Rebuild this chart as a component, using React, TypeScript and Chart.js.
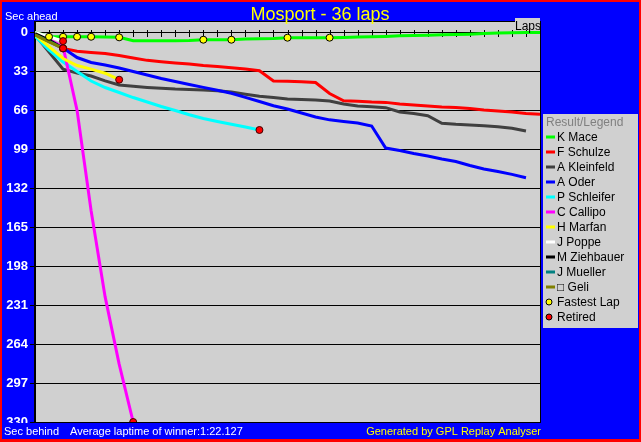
import React, { useEffect, useRef } from "react";
import { Chart, registerables } from "chart.js";

Chart.register(...registerables);

const TITLE = "Mosport - 36 laps";
const AVG_LAP_TEXT = "Average laptime of winner:1:22.127";
const CREDIT = "Generated by GPL Replay Analyser";
const AXIS_TOP_LABEL = "Sec ahead";
const AXIS_BOTTOM_LABEL = "Sec behind";
const X_LABEL = "Laps";
const LEGEND_TITLE = "Result/Legend";

const lapNumbers = [0, 1, 2, 3, 4, 5, 6, 7, 8, 9, 10, 11, 12, 13, 14, 15, 16, 17, 18, 19, 20, 21, 22, 23, 24, 25, 26, 27, 28, 29, 30, 31, 32, 33, 34, 35, 36];
const yTickValues = [0, 33, 66, 99, 132, 165, 198, 231, 264, 297, 330];

// seconds behind the winner's average pace, one value per lap (lap 0 first)
const maceGaps = [0, 3.6, 3.6, 3.6, 3.6, 3.8, 4.1, 7.0, 7.0, 7.0, 7.0, 6.8, 6.1, 6.1, 6.1, 5.6, 5.3, 5.1, 4.4, 4.4, 4.4, 4.4, 4.2, 3.8, 3.6, 3.3, 2.8, 2.6, 2.3, 2.0, 1.7, 1.4, 0.9, 0.5, 0.2, 0.1, 0];
const schulzeGaps = [1, 7, 13.5, 15.9, 16.9, 17.8, 19.5, 21.6, 23.6, 24.8, 25.8, 26.7, 28, 28.8, 29.8, 30.9, 32.4, 41.1, 41.4, 41.7, 42.4, 51.7, 57.8, 58.3, 58.9, 59.2, 60.6, 61.4, 62.3, 63.1, 63.6, 64.4, 65.7, 66.5, 67.4, 68.6, 69.3];
const kleinfeldGaps = [2, 16.5, 31, 34.3, 36.9, 41, 44.5, 45.6, 46.5, 47.2, 47.9, 48.3, 48.8, 49.4, 50.5, 52.3, 54, 55.1, 56.4, 56.8, 57.2, 58, 60.6, 62.3, 62.9, 63.7, 67.4, 68.6, 70.5, 76.9, 77.8, 78.4, 79, 79.8, 81.2, 83.5];
const oderGaps = [1, 6.5, 13.1, 21.2, 25.4, 27.5, 30.1, 33, 36, 39, 41.5, 44, 46.5, 49, 51.5, 55, 58.5, 62.1, 64.8, 68.2, 71.6, 74, 75.4, 76.7, 79.2, 97.9, 100, 102.5, 104.7, 107.2, 109.3, 112.7, 115.7, 117.8, 120.2, 123];
const schleiferGaps = [3, 14.8, 25, 33, 41.1, 46.6, 50.8, 55.1, 58.9, 62.7, 66.1, 69.7, 72.9, 75.4, 77.7, 80.1, 82.6];
const callipoGaps = [1, 6, 12, 66, 151, 224, 281, 330];
const marfanGaps = [2, 12, 22, 28, 31, 34.5, 40];
const poppeGaps = [0, 3.5, 7.3];
const ziehbauerGaps = [1, 6.5, 13.4];
const muellerGaps = [2, 7.5, 13.4];
const geliGaps = [2, 8, 13.4];

const driverNames = ["K Mace", "F Schulze", "A Kleinfeld", "A Oder", "P Schleifer", "C Callipo", "H Marfan", "J Poppe", "M Ziehbauer", "J Mueller", "\u25A1 Geli"];
const driverColors = ["#00ff00", "#ff0000", "#404040", "#0000ff", "#00ffff", "#ff00ff", "#ffff00", "#ffffff", "#000000", "#008080", "#808000"];
const driverGaps = [maceGaps, schulzeGaps, kleinfeldGaps, oderGaps, schleiferGaps, callipoGaps, marfanGaps, poppeGaps, ziehbauerGaps, muellerGaps, geliGaps];

const fastestLapLaps = [1, 2, 3, 4, 6, 12, 14, 18, 21];
const retiredDrivers = ["P Schleifer", "C Callipo", "H Marfan", "J Poppe", "M Ziehbauer", "J Mueller", "\u25A1 Geli"];

const FONT = "'Liberation Sans', Arial, Helvetica, sans-serif";
const PLOT_BG = "#d0d0d0";

const gplPlugin = {
  id: "gplFrame",
  beforeDraw(chart: any) {
    const { ctx, width, height, chartArea: a } = chart;
    ctx.save();
    ctx.fillStyle = "#ff0000";
    ctx.fillRect(0, 0, width, height);
    ctx.fillStyle = "#0000ff";
    ctx.fillRect(2, 2, width - 4, height - 5);
    ctx.fillStyle = PLOT_BG;
    ctx.fillRect(a.left, a.top, a.right - a.left, a.bottom - a.top);
    ctx.restore();
  },
  beforeDatasetsDraw(chart: any) {
    const { ctx } = chart;
    const xs = chart.scales.x;
    const ys = chart.scales.y;
    const y0 = Math.round(ys.getPixelForValue(0));
    ctx.save();
    ctx.strokeStyle = "#000";
    ctx.lineWidth = 1;
    ctx.beginPath();
    lapNumbers.forEach((lap) => {
      const x = Math.round(xs.getPixelForValue(lap)) + 0.5;
      ctx.moveTo(x, y0 - 3);
      ctx.lineTo(x, y0 + 4);
    });
    ctx.stroke();
    ctx.restore();
  },
  afterDraw(chart: any) {
    const { ctx, chartArea: a } = chart;
    ctx.save();
    // plot frame
    ctx.strokeStyle = "#000";
    ctx.lineWidth = 1;
    ctx.strokeRect(a.left - 0.5, a.top - 0.5, a.right - a.left + 1, a.bottom - a.top + 1);
    // status band at the bottom
    ctx.fillStyle = "#0000ff";
    ctx.fillRect(2, a.bottom + 1, a.right, 16);

    // title
    ctx.textBaseline = "alphabetic";
    ctx.textAlign = "center";
    ctx.fillStyle = "#ffff00";
    ctx.font = `18px ${FONT}`;
    ctx.fillText(TITLE, 320, 20);

    ctx.textAlign = "left";
    ctx.font = `11px ${FONT}`;
    ctx.fillStyle = "#ffffff";
    ctx.fillText(AXIS_TOP_LABEL, 5, 20);
    ctx.fillText(AXIS_BOTTOM_LABEL, 4, 435);
    ctx.fillText(AVG_LAP_TEXT, 70, 435);
    ctx.textAlign = "right";
    ctx.fillStyle = "#ffff00";
    ctx.fillText(CREDIT, a.right + 1, 435);

    // Laps label
    ctx.fillStyle = PLOT_BG;
    ctx.fillRect(a.right - 25, 18, 25, 12);
    ctx.fillStyle = "#000";
    ctx.textAlign = "left";
    ctx.font = `12px ${FONT}`;
    ctx.fillText(X_LABEL, a.right - 25, 30);

    // legend
    const lx = 543, ly = 114;
    ctx.fillStyle = PLOT_BG;
    ctx.fillRect(lx, ly, 95, 214);
    ctx.font = `12px ${FONT}`;
    ctx.textBaseline = "middle";
    ctx.fillStyle = "#808080";
    ctx.fillText(LEGEND_TITLE, 546, 123);
    const lineSets = chart.data.datasets.filter((d: any) => d.isDriver);
    lineSets.forEach((d: any, i: number) => {
      const cy = 137 + i * 15;
      ctx.strokeStyle = d.borderColor;
      ctx.lineWidth = 3;
      ctx.beginPath();
      ctx.moveTo(546, cy);
      ctx.lineTo(555, cy);
      ctx.stroke();
      ctx.fillStyle = "#000";
      ctx.fillText(d.label, 557, cy + 0.5);
    });
    const markerSets = chart.data.datasets.filter((d: any) => !d.isDriver);
    markerSets.forEach((d: any, j: number) => {
      const cy = 137 + (lineSets.length + j) * 15;
      ctx.beginPath();
      ctx.arc(549, cy, 3, 0, Math.PI * 2);
      ctx.fillStyle = d.pointBackgroundColor;
      ctx.fill();
      ctx.lineWidth = 1;
      ctx.strokeStyle = "#000";
      ctx.stroke();
      ctx.fillStyle = "#000";
      ctx.fillText(d.label, 557, cy + 0.5);
    });
    ctx.restore();
  },
};

export default function App() {
  const canvasRef = useRef<HTMLCanvasElement | null>(null);

  useEffect(() => {
    const canvas = canvasRef.current;
    if (!canvas) return;

    const driverSets = driverNames.map((name, i) => ({
      type: "line",
      label: name,
      isDriver: true,
      data: driverGaps[i].map((v, lap) => ({ x: lapNumbers[lap], y: v })),
      borderColor: driverColors[i],
      backgroundColor: driverColors[i],
      borderWidth: 3,
      pointRadius: 0,
      tension: 0,
      fill: false,
      order: -i,
    }));

    const fastestSet = {
      type: "line",
      label: "Fastest Lap",
      isDriver: false,
      showLine: false,
      data: fastestLapLaps.map((lap) => ({ x: lap, y: maceGaps[lap] })),
      pointStyle: "circle",
      pointRadius: 3.5,
      pointBackgroundColor: "#ffff00",
      pointBorderColor: "#000000",
      pointBorderWidth: 1,
      order: -100,
    };

    const retiredSet = {
      type: "line",
      label: "Retired",
      isDriver: false,
      showLine: false,
      data: retiredDrivers.map((name) => {
        const g = driverGaps[driverNames.indexOf(name)];
        return { x: lapNumbers[g.length - 1], y: g[g.length - 1] };
      }),
      pointStyle: "circle",
      pointRadius: 3.5,
      pointBackgroundColor: "#ff0000",
      pointBorderColor: "#400000",
      pointBorderWidth: 1,
      order: -101,
    };

    const chart = new Chart(canvas, {
      type: "line",
      data: { datasets: [...driverSets, fastestSet, retiredSet] as any },
      options: {
        responsive: false,
        animation: false,
        devicePixelRatio: 1,
        events: [],
        layout: { padding: { left: 0, top: 22, right: 101, bottom: 20 } },
        plugins: {
          legend: { display: false },
          tooltip: { enabled: false },
          title: { display: false },
        },
        scales: {
          x: {
            type: "linear",
            min: lapNumbers[0],
            max: lapNumbers[lapNumbers.length - 1],
            display: false,
          },
          y: {
            type: "linear",
            reverse: true,
            min: -8.9,
            max: 330,
            afterBuildTicks: (s: any) => {
              s.ticks = yTickValues.map((v) => ({ value: v }));
            },
            afterFit: (s: any) => {
              s.width = 35;
            },
            grid: { color: "#000000", lineWidth: 1, tickLength: 5, drawTicks: true },
            border: { display: true, color: "#000000", width: 1 },
            ticks: {
              color: "#ffffff",
              padding: 2,
              font: { family: FONT, size: 13, weight: "bold" },
              callback: (v: any) => String(v),
            },
          },
        },
      } as any,
      plugins: [gplPlugin],
    });

    return () => chart.destroy();
  }, []);

  return (
    <div style={{ position: "fixed", left: 0, top: 0, width: 641, height: 442 }}>
      <canvas ref={canvasRef} width={641} height={442} style={{ display: "block" }} />
    </div>
  );
}
